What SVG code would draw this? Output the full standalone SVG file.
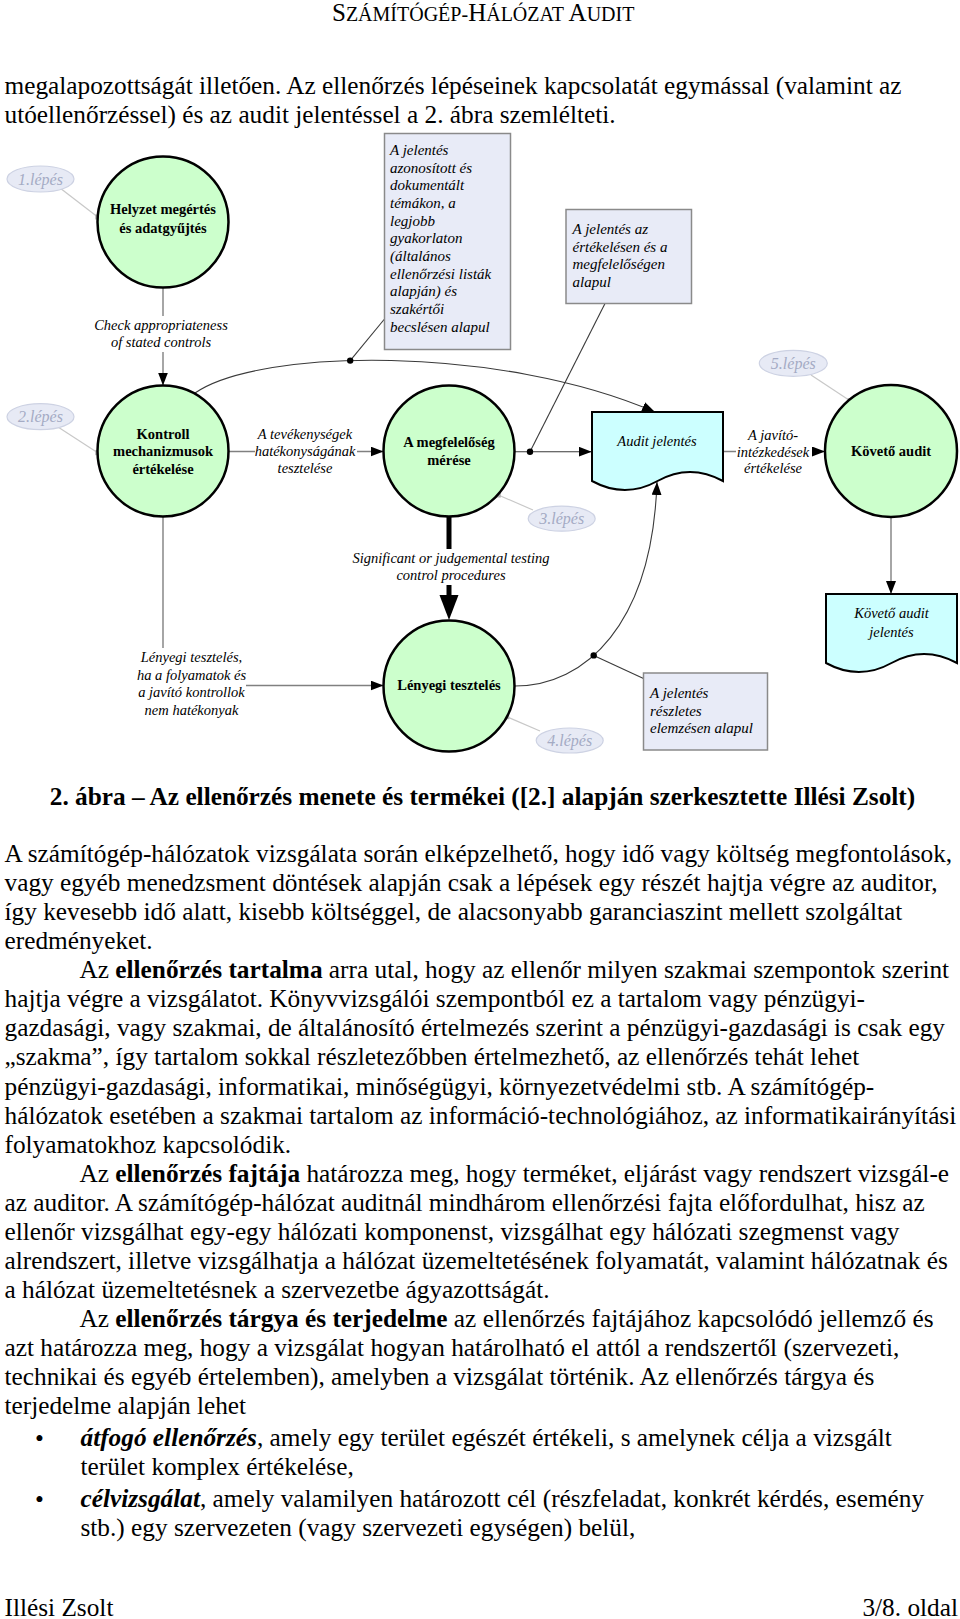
<svg xmlns="http://www.w3.org/2000/svg" width="960" height="1619" viewBox="0 0 960 1619">
<defs>
<style>
text{font-family:"Liberation Serif","Times New Roman",serif}
.body{font-size:25.3px;fill:#000}
.b{font-weight:bold}
.bi{font-weight:bold;font-style:italic}
.node circle{fill:#ccffcc;stroke:#000;stroke-width:2.5}
.ct{font-size:14.5px;font-weight:bold;text-anchor:middle;fill:#000}
.note rect{fill:#e8ebf7;stroke:#8a8a8a;stroke-width:1.5}
.nt{font-size:15px;font-style:italic;fill:#000}
.doc path{fill:#ccffff;stroke:#000;stroke-width:2}
.dt{font-size:14.5px;font-style:italic;text-anchor:middle;fill:#000}
.step ellipse{fill:#e7eaf5;stroke:#cdd2e3;stroke-width:1.2}
.st{font-size:16px;font-style:italic;fill:#a4abc4;text-anchor:middle}
.lbl{font-size:14.5px;font-style:italic;text-anchor:middle;fill:#000}
.ga{fill:none;stroke:#808080;stroke-width:1.4}
.dk{fill:none;stroke:#3a3a3a;stroke-width:1.1}
.sl{fill:none;stroke:#c8c8c8;stroke-width:1.2}
.sd{fill:#b5b5b5}
.bg{fill:#fff}
</style>
<marker id="ah" viewBox="0 0 13 10" refX="13" refY="5" markerWidth="13" markerHeight="10" markerUnits="userSpaceOnUse" orient="auto">
<path d="M0,0 L13,5 L0,10 Z" fill="#000"/>
</marker>
</defs>
<rect width="960" height="1619" fill="#fff"/>

<g id="page-text">
<text x="332" y="21" class="body"><tspan font-size="25">S</tspan><tspan font-size="20">ZÁMÍTÓGÉP-</tspan><tspan font-size="25">H</tspan><tspan font-size="20">ÁLÓZAT </tspan><tspan font-size="25">A</tspan><tspan font-size="20">UDIT</tspan></text>
<text x="4.5" y="94" class="body">megalapozottságát illetően. Az ellenőrzés lépéseinek kapcsolatát egymással (valamint az</text>
<text x="4.5" y="123" class="body">utóellenőrzéssel) és az audit jelentéssel a 2. ábra szemlélteti.</text>
<text x="482.5" y="805" class="body b" text-anchor="middle">2. ábra – Az ellenőrzés menete és termékei ([2.] alapján szerkesztette Illési Zsolt)</text>
<text x="4.5" y="862" class="body">A számítógép-hálózatok vizsgálata során elképzelhető, hogy idő vagy költség megfontolások,</text>
<text x="4.5" y="891.07" class="body">vagy egyéb menedzsment döntések alapján csak a lépések egy részét hajtja végre az auditor,</text>
<text x="4.5" y="920.14" class="body">így kevesebb idő alatt, kisebb költséggel, de alacsonyabb garanciaszint mellett szolgáltat</text>
<text x="4.5" y="949.21" class="body">eredményeket.</text>
<text x="79.5" y="978.28" class="body">Az <tspan class="b">ellenőrzés tartalma</tspan> arra utal, hogy az ellenőr milyen szakmai szempontok szerint</text>
<text x="4.5" y="1007.35" class="body">hajtja végre a vizsgálatot. Könyvvizsgálói szempontból ez a tartalom vagy pénzügyi-</text>
<text x="4.5" y="1036.42" class="body">gazdasági, vagy szakmai, de általánosító értelmezés szerint a pénzügyi-gazdasági is csak egy</text>
<text x="4.5" y="1065.49" class="body">„szakma”, így tartalom sokkal részletezőbben értelmezhető, az ellenőrzés tehát lehet</text>
<text x="4.5" y="1094.56" class="body">pénzügyi-gazdasági, informatikai, minőségügyi, környezetvédelmi stb. A számítógép-</text>
<text x="4.5" y="1123.63" class="body">hálózatok esetében a szakmai tartalom az információ-technológiához, az informatikairányítási</text>
<text x="4.5" y="1152.7" class="body">folyamatokhoz kapcsolódik.</text>
<text x="79.5" y="1181.77" class="body">Az <tspan class="b">ellenőrzés fajtája</tspan> határozza meg, hogy terméket, eljárást vagy rendszert vizsgál-e</text>
<text x="4.5" y="1210.84" class="body">az auditor. A számítógép-hálózat auditnál mindhárom ellenőrzési fajta előfordulhat, hisz az</text>
<text x="4.5" y="1239.91" class="body">ellenőr vizsgálhat egy-egy hálózati komponenst, vizsgálhat egy hálózati szegmenst vagy</text>
<text x="4.5" y="1268.98" class="body">alrendszert, illetve vizsgálhatja a hálózat üzemeltetésének folyamatát, valamint hálózatnak és</text>
<text x="4.5" y="1298.05" class="body">a hálózat üzemeltetésnek a szervezetbe ágyazottságát.</text>
<text x="79.5" y="1327.12" class="body">Az <tspan class="b">ellenőrzés tárgya és terjedelme</tspan> az ellenőrzés fajtájához kapcsolódó jellemző és</text>
<text x="4.5" y="1356.19" class="body">azt határozza meg, hogy a vizsgálat hogyan határolható el attól a rendszertől (szervezeti,</text>
<text x="4.5" y="1385.26" class="body">technikai és egyéb értelemben), amelyben a vizsgálat történik. Az ellenőrzés tárgya és</text>
<text x="4.5" y="1414.33" class="body">terjedelme alapján lehet</text>
<text x="35" y="1447" class="body" font-size="30">•</text>
<text x="80.5" y="1446" class="body"><tspan class="bi">átfogó ellenőrzés</tspan>, amely egy terület egészét értékeli, s amelynek célja a vizsgált</text>
<text x="80.5" y="1475" class="body">terület komplex értékelése,</text>
<text x="35" y="1507.5" class="body" font-size="30">•</text>
<text x="80.5" y="1506.5" class="body"><tspan class="bi">célvizsgálat</tspan>, amely valamilyen határozott cél (részfeladat, konkrét kérdés, esemény</text>
<text x="80.5" y="1535.5" class="body">stb.) egy szervezeten (vagy szervezeti egységen) belül,</text>
<text x="4.5" y="1616" class="body">Illési Zsolt</text>
<text x="958" y="1616" class="body" text-anchor="end">3/8. oldal</text>
</g>

<g id="connectors">
<line class="ga" x1="163" y1="287.5" x2="163" y2="385.5" marker-end="url(#ah)"/>
<rect class="bg" x="92" y="316" width="141" height="36"/>
<text class="lbl" x="161" y="329.5">Check appropriateness</text>
<text class="lbl" x="161" y="347">of stated controls</text>
<line class="ga" x1="228.5" y1="451.5" x2="383.5" y2="451.5" marker-end="url(#ah)"/>
<rect class="bg" x="255" y="427" width="102" height="50"/>
<text class="lbl" x="305" y="439">A tevékenységek</text>
<text class="lbl" x="305" y="456">hatékonyságának</text>
<text class="lbl" x="305" y="473">tesztelése</text>
<path class="dk" d="M195,393 C260,348 500,345 655,412" marker-end="url(#ah)"/>
<line class="dk" x1="384.5" y1="319" x2="350.2" y2="360.6"/>
<circle cx="350.2" cy="360.6" r="3.2" fill="#000"/>
<line class="dk" x1="515" y1="451.7" x2="591.7" y2="451.7" marker-end="url(#ah)"/>
<line class="dk" x1="605" y1="303.5" x2="530" y2="451.7"/>
<circle cx="530" cy="451.7" r="3.2" fill="#000"/>
<line class="ga" x1="723" y1="451.5" x2="825" y2="451.5" marker-end="url(#ah)"/>
<rect class="bg" x="736" y="428" width="76" height="50"/>
<text class="lbl" x="773" y="440">A javító-</text>
<text class="lbl" x="773" y="456.7">intézkedések</text>
<text class="lbl" x="773" y="473.3">értékelése</text>
<line x1="449" y1="516.5" x2="449" y2="597" stroke="#000" stroke-width="5"/>
<polygon points="439.5,595 458.5,595 449,620" fill="#000"/>
<rect class="bg" x="345" y="549" width="210" height="36"/>
<text class="lbl" x="451" y="563">Significant or judgemental testing</text>
<text class="lbl" x="451" y="580">control procedures</text>
<path class="ga" d="M163,516.5 V685.5 H383.5" marker-end="url(#ah)"/>
<rect class="bg" x="133" y="648" width="113" height="72"/>
<text class="lbl" x="191.5" y="662">Lényegi tesztelés,</text>
<text class="lbl" x="191.5" y="679.5">ha a folyamatok és</text>
<text class="lbl" x="191.5" y="697">a javító kontrollok</text>
<text class="lbl" x="191.5" y="714.5">nem hatékonyak</text>
<path class="dk" d="M515,686 C585,686 652,625 657,482" marker-end="url(#ah)"/>
<line class="dk" x1="593.7" y1="655.4" x2="643.5" y2="678.5"/>
<circle cx="593.7" cy="655.4" r="3.2" fill="#000"/>
<line class="ga" x1="891" y1="517" x2="891" y2="594" marker-end="url(#ah)"/>
<line class="sl" x1="60" y1="188" x2="97.7" y2="217"/>
<rect class="sd" x="95.2" y="214.5" width="5" height="5"/>
<line class="sl" x1="58" y1="427" x2="97.7" y2="452.7"/>
<rect class="sd" x="95.2" y="450.2" width="5" height="5"/>
<line class="sl" x1="498.3" y1="495" x2="533" y2="510"/>
<rect class="sd" x="495.8" y="492.5" width="5" height="5"/>
<line class="sl" x1="506.7" y1="716.7" x2="540" y2="731"/>
<rect class="sd" x="504.2" y="714.2" width="5" height="5"/>
<line class="sl" x1="811" y1="375" x2="850" y2="400.7"/>
<rect class="sd" x="847.5" y="398.2" width="5" height="5"/>
</g>

<g id="step1" class="step"><ellipse cx="40.5" cy="179" rx="33.5" ry="13"/><text class="st" x="40.5" y="184.5">1.lépés</text></g>
<g id="step2" class="step"><ellipse cx="40.5" cy="416.7" rx="33.5" ry="13"/><text class="st" x="40.5" y="422.2">2.lépés</text></g>
<g id="step3" class="step"><ellipse cx="561.7" cy="518.7" rx="33.5" ry="12.5"/><text class="st" x="561.7" y="524.2">3.lépés</text></g>
<g id="step4" class="step"><ellipse cx="569.7" cy="740.5" rx="33.5" ry="12.5"/><text class="st" x="569.7" y="746">4.lépés</text></g>
<g id="step5" class="step"><ellipse cx="793.3" cy="363.3" rx="34" ry="13"/><text class="st" x="793.3" y="368.8">5.lépés</text></g>

<g id="n-helyzet" class="node"><circle cx="163" cy="222" r="65.5"/>
<text class="ct" x="163" y="214">Helyzet megértés</text><text class="ct" x="163" y="232.5">és adatgyűjtés</text></g>
<g id="n-kontroll" class="node"><circle cx="163" cy="451" r="65.5"/>
<text class="ct" x="163" y="438.5">Kontroll</text><text class="ct" x="163" y="456">mechanizmusok</text><text class="ct" x="163" y="474">értékelése</text></g>
<g id="n-megfeleloseg" class="node"><circle cx="449" cy="451" r="65.5"/>
<text class="ct" x="449" y="447">A megfelelőség</text><text class="ct" x="449" y="465">mérése</text></g>
<g id="n-lenyegi" class="node"><circle cx="449" cy="686" r="65.5"/>
<text class="ct" x="449" y="690">Lényegi tesztelés</text></g>
<g id="n-koveto" class="node"><circle cx="891" cy="451" r="66"/>
<text class="ct" x="891" y="456">Követő audit</text></g>

<g id="d-audit" class="doc"><path d="M592,412 H723 V481 C701,469 679,469 657.5,481 C636,493 614,493 592,481 Z"/>
<text class="dt" x="657" y="446">Audit jelentés</text></g>
<g id="d-koveto" class="doc"><path d="M826,594 H957 V663 C935,651 913,651 891.5,663 C870,675 848,675 826,663 Z"/>
<text class="dt" x="891.5" y="618.3">Követő audit</text><text class="dt" x="891.5" y="637.3">jelentés</text></g>

<g id="note1" class="note"><rect x="384.5" y="133.5" width="126" height="216"/>
<text class="nt"><tspan x="390" y="155">A jelentés</tspan><tspan x="390" y="172.65">azonosított és</tspan><tspan x="390" y="190.3">dokumentált</tspan><tspan x="390" y="207.95">témákon, a</tspan><tspan x="390" y="225.6">legjobb</tspan><tspan x="390" y="243.25">gyakorlaton</tspan><tspan x="390" y="260.9">(általános</tspan><tspan x="390" y="278.55">ellenőrzési listák</tspan><tspan x="390" y="296.2">alapján) és</tspan><tspan x="390" y="313.85">szakértői</tspan><tspan x="390" y="331.5">becslésen alapul</tspan></text></g>
<g id="note2" class="note"><rect x="566" y="209.5" width="125.5" height="94"/>
<text class="nt"><tspan x="572.5" y="234">A jelentés az</tspan><tspan x="572.5" y="251.7">értékelésen és a</tspan><tspan x="572.5" y="269.3">megfelelőségen</tspan><tspan x="572.5" y="287">alapul</tspan></text></g>
<g id="note3" class="note"><rect x="643.5" y="673" width="124" height="77"/>
<text class="nt"><tspan x="650" y="698.3">A jelentés</tspan><tspan x="650" y="715.5">részletes</tspan><tspan x="650" y="732.7">elemzésen alapul</tspan></text></g>
</svg>
